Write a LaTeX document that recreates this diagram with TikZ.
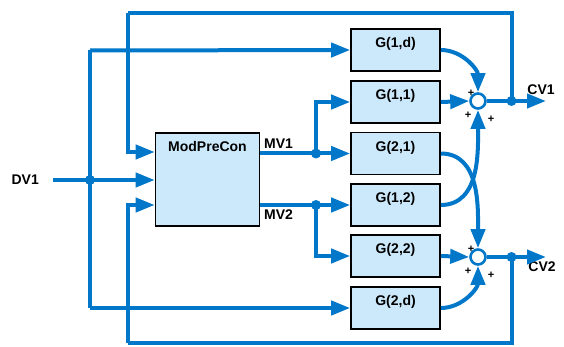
\documentclass[tikz,border=0pt]{standalone}
\usepackage{fontspec}
\setmainfont{Liberation Sans}
\usetikzlibrary{arrows.meta}
\definecolor{lblue}{RGB}{0,119,200}
\definecolor{boxfill}{RGB}{204,233,251}
\begin{document}
\begin{tikzpicture}[x=1pt,y=-1pt,
  gbox/.style={draw=black,line width=1.6pt,fill=boxfill,minimum width=89pt,minimum height=42pt,inner sep=0pt,anchor=center},
  wire/.style={draw=lblue,line width=4pt},
  arr/.style={wire,-{Triangle[length=19pt,width=14pt]}},
  summ/.style={circle,draw=lblue,line width=2.6pt,fill=white,minimum size=15pt,inner sep=0pt},
  dotn/.style={circle,fill=lblue,minimum size=10pt,inner sep=0pt},
  lbl/.style={font=\bfseries\fontsize{14}{16}\selectfont,inner sep=0pt},
  pl/.style={font=\bfseries\fontsize{11}{11}\selectfont,inner sep=0pt}]
\useasboundingbox (0,0) rectangle (564,347);
% boxes
\node[gbox] (g1d) at (395.5,50) {};
\node[gbox] (g11) at (395.5,102) {};
\node[gbox] (g21) at (395.5,153.5) {};
\node[gbox] (g12) at (395.5,205) {};
\node[gbox] (g22) at (395.5,256) {};
\node[gbox] (g2d) at (395.5,308) {};
\foreach \n/\t in {g1d/{G(1,d)},g11/{G(1,1)},g21/{G(2,1)},g12/{G(1,2)},g22/{G(2,2)},g2d/{G(2,d)}}
  \node[lbl,anchor=north] at ([yshift=-9pt]\n.north) {\t};
\node[draw=black,line width=1.6pt,fill=boxfill,minimum width=104pt,minimum height=93pt,inner sep=0pt] (mpc) at (207.5,179.5) {};
\node[lbl,anchor=north] at ([yshift=-9pt]mpc.north) {ModPreCon};
% summers
\node[summ] (s1) at (478,101) {};
\node[summ] (s2) at (478,257) {};
% coordinates
\coordinate (dvin) at (53,180);
\node[dotn] (dvdot) at (90,180) {};
\node[dotn] (mv1dot) at (316,153.5) {};
\node[dotn] (mv2dot) at (316,205) {};
\node[dotn] (cv1dot) at (511.5,101) {};
\node[dotn] (cv2dot) at (511.5,257) {};
\coordinate (cv1out) at (546,101);
\coordinate (cv2out) at (546,257);
\coordinate (topy) at (128,13.5);
\coordinate (boty) at (128,342.5);
% labels
\node[lbl,anchor=east] (dv1) at (39,180) {DV1};
\node[lbl,anchor=south west] (mv1l) at (264,148.5) {MV1};
\node[lbl,anchor=north west] (mv2l) at (264,210) {MV2};
\node[lbl,anchor=south] (cv1l) at (541,94.5) {CV1};
\node[lbl,anchor=north] (cv2l) at (542,262) {CV2};
% pluses
\foreach \s in {s1,s2}{
  \node[pl] at ([shift={(-7,-8)}]\s.center) {+};
  \node[pl] at ([shift={(-10,14)}]\s.center) {+};
  \node[pl] at ([shift={(13,18)}]\s.center) {+};
}
% wires
\draw[arr] (dvin) -- (mpc.west|-dvin);
\draw[wire] (dvdot.center) |- (90,50.5);
\draw[arr] (90,50.5) -- (g1d.west);
\draw[wire] (dvdot.center) -- (90,308);
\draw[arr] (90,308) -- (g2d.west);
\draw[wire] (cv1dot.center) |- (topy);
\draw[arr] (topy) |- (mpc.west|-0,152);
\draw[wire] (cv2dot.center) |- (boty);
\draw[arr] (boty) |- (mpc.west|-0,205);
\draw[wire] (mpc.east|-mv1dot) -- (mv1dot.center);
\draw[arr] (mv1dot.center) -- (g21.west);
\draw[arr] (mv1dot.center) |- (g11.west);
\draw[wire] (mpc.east|-mv2dot) -- (mv2dot.center);
\draw[arr] (mv2dot.center) -- (g12.west);
\draw[arr] (mv2dot.center) |- (g22.west);
\draw[arr] (g11.east) -- (s1.west);
\draw[arr] (g22.east) -- (s2.west);
\draw[arr] (g1d.east) to[out=0,in=90] (s1.north);
\draw[arr] (g12.east) to[out=0,in=-90] (s1.south);
\draw[arr] (g21.east) to[out=0,in=90] (s2.north);
\draw[arr] (g2d.east) to[out=0,in=-90] (s2.south);
\draw[wire] (s1.east) -- (cv1dot.center);
\draw[arr] (cv1dot.center) -- (cv1out);
\draw[wire] (s2.east) -- (cv2dot.center);
\draw[arr] (cv2dot.center) -- (cv2out);
\end{tikzpicture}
\end{document}
